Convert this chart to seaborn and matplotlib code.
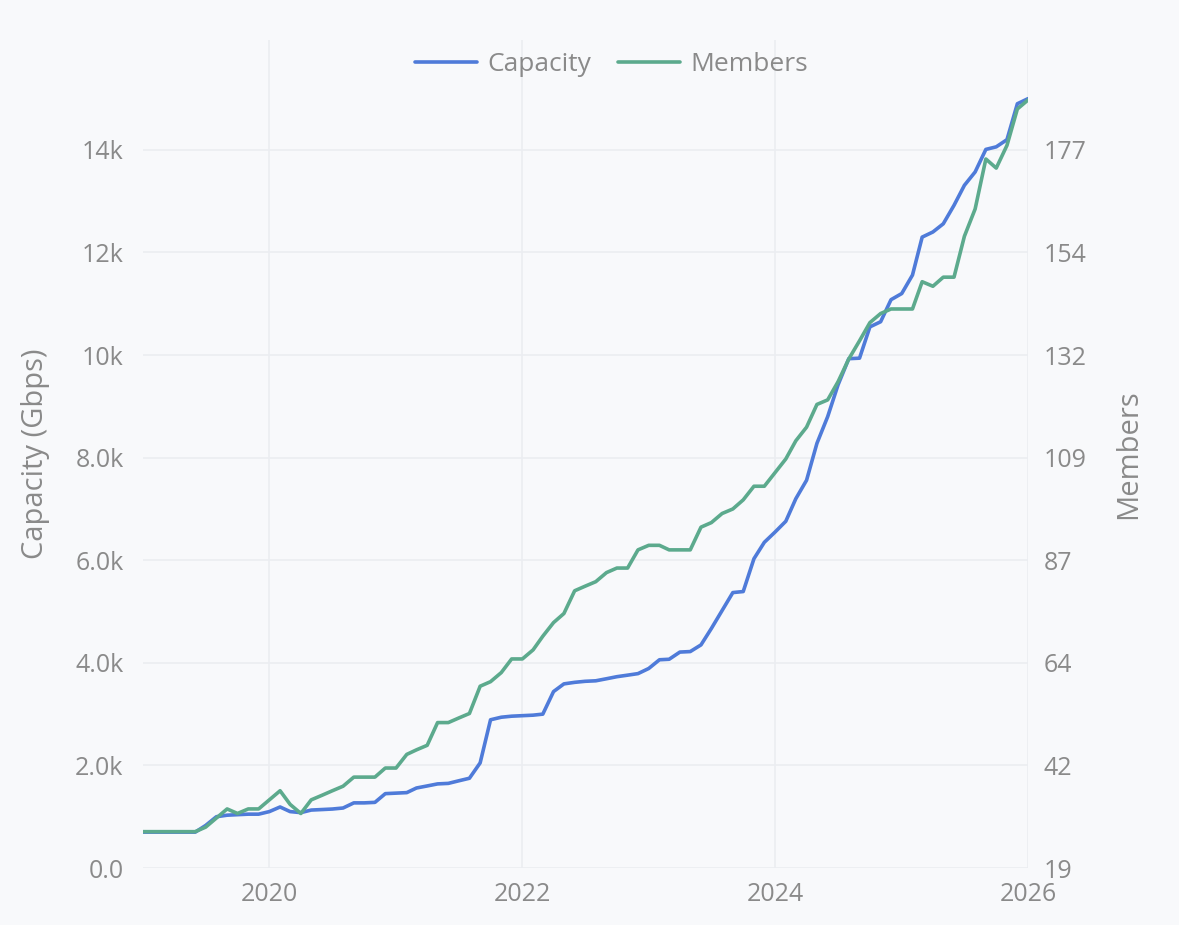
import pandas as pd
import numpy as np
import matplotlib
import matplotlib.pyplot as plt
import seaborn as sns

matplotlib.use('Agg')

# monthly values, Jan 2019 .. Jan 2026
months = pd.date_range('2019-01-01', periods=85, freq='MS')

capacity = [
    700, 700, 700, 700, 700, 700, 830, 1000, 1030, 1040,
    1050, 1050, 1100, 1190, 1100, 1080, 1130, 1140, 1150, 1170,
    1270, 1270, 1280, 1450, 1460, 1470, 1560, 1600, 1640, 1650,
    1700, 1750, 2050, 2890, 2940, 2960, 2970, 2980, 3000, 3440,
    3590, 3620, 3640, 3650, 3690, 3730, 3760, 3790, 3890, 4060,
    4070, 4210, 4220, 4350, 4670, 5020, 5370, 5390, 6030, 6350,
    6550, 6760, 7200, 7560, 8280, 8800, 9420, 9930, 9940, 10550,
    10650, 11080, 11200, 11560, 12300, 12400, 12560, 12920, 13310, 13570,
    14010, 14060, 14200, 14900, 15000,
]

members = [
    27, 27, 27, 27, 27, 27, 28, 30, 32, 31,
    32, 32, 34, 36, 33, 31, 34, 35, 36, 37,
    39, 39, 39, 41, 41, 44, 45, 46, 51, 51,
    52, 53, 59, 60, 62, 65, 65, 67, 70, 73,
    75, 80, 81, 82, 84, 85, 85, 89, 90, 90,
    89, 89, 89, 94, 95, 97, 98, 100, 103, 103,
    106, 109, 113, 116, 121, 122, 126, 131, 135, 139,
    141, 142, 142, 142, 148, 147, 149, 149, 158, 164,
    175, 173, 178, 186, 188,
]

cap_ticks = [0, 2000, 4000, 6000, 8000, 10000, 12000, 14000]
cap_labels = ['0.0', '2.0k', '4.0k', '6.0k', '8.0k', '10k', '12k', '14k']
mem_labels = ['19', '42', '64', '87', '109', '132', '154', '177']
year_ticks = ['2020', '2022', '2024', '2026']

df = pd.DataFrame({'Month': months, 'Capacity': capacity, 'Members': members})

BLUE = '#4f7bd9'
GREEN = '#5caa8d'
TEXT = '#8a8a8a'
GRID = '#ebedf1'
BG = '#f8f9fb'

sns.set_theme(style='white')
plt.rcParams['font.family'] = ['Open Sans', 'DejaVu Sans']

fig = plt.figure(figsize=(11.79, 9.25), dpi=100, facecolor=BG)
ax = fig.add_axes([0.1213, 0.0616, 0.7507, 0.895])
ax.set_facecolor(BG)
ax2 = ax.twinx()
ax2.patch.set_visible(False)

sns.lineplot(data=df, x='Month', y='Capacity', ax=ax, color=BLUE, linewidth=2.6, label='Capacity', legend=False)
sns.lineplot(data=df, x='Month', y='Members', ax=ax2, color=GREEN, linewidth=2.6, label='Members', legend=False)

# left axis
top = 16140
ax.set_ylim(0, top)
ax.set_yticks(cap_ticks)
ax.set_yticklabels(cap_labels)
ax.set_ylabel('Capacity (Gbps)', fontsize=21, color=TEXT, labelpad=18)

# right axis aligned with the left grid
m0, step = 19, 158 / 7
ax2.set_ylim(m0, m0 + top / 2000 * step)
ax2.set_yticks([m0 + i * step for i in range(len(mem_labels))])
ax2.set_yticklabels(mem_labels)
ax2.set_ylabel('Members', fontsize=21, color=TEXT, labelpad=20)

ax.set_xlim(pd.Timestamp('2019-01-01'), pd.Timestamp('2026-01-01'))
ax.set_xticks([pd.Timestamp(y + '-01-01') for y in year_ticks])
ax.set_xticklabels(year_ticks)
ax.set_xlabel('')

ax.set_axisbelow(True)
ax.grid(True, color=GRID, linewidth=1.2)
ax2.grid(False)
for a in (ax, ax2):
    for s in a.spines.values():
        s.set_visible(False)
    a.tick_params(colors=TEXT, labelsize=18, length=0)
ax.tick_params(axis='y', pad=14)
ax.tick_params(axis='x', pad=10)
ax2.tick_params(axis='y', pad=11)

handles = [ax.get_lines()[0], ax2.get_lines()[0]]
fig.legend(handles, ['Capacity', 'Members'], loc='center', bbox_to_anchor=(0.5187, 0.93),
           ncol=2, frameon=False, fontsize=19, labelcolor=TEXT, handlelength=2.35,
           columnspacing=1.0, handletextpad=0.4)

plt.savefig('out.png', dpi=100, facecolor=BG)
plt.close()
